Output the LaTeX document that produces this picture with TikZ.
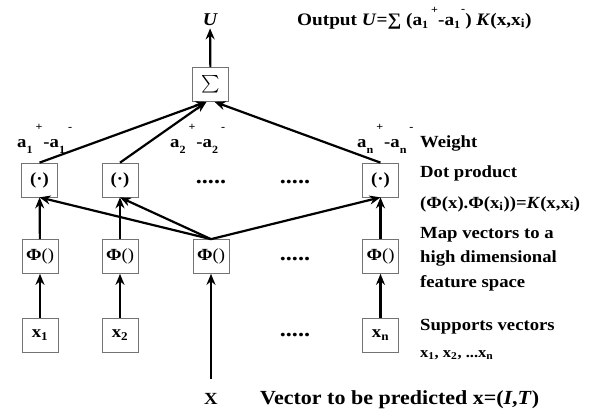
\documentclass[tikz,border=0pt]{standalone}
\usepackage{fontspec}
\setmainfont{Liberation Serif}[FakeStretch=1.1]
\usetikzlibrary{arrows.meta}
\newcommand{\wsup}[2]{\raisebox{#2}{\fontsize{11}{11}\selectfont #1}}
\newcommand{\wsub}[2]{\raisebox{#2}{\fontsize{11}{11}\selectfont #1}}
\newcommand{\wlab}[1]{a\wsub{#1}{-6pt}\hspace{3pt}\wsup{+}{17pt}\hspace{1pt}-a\wsub{#1}{-6pt}\hspace{3pt}\wsup{-}{17pt}}
\tikzset{
  unit/.style={draw=black!55, line width=0.7pt, minimum width=36pt, minimum height=34pt,
    inner sep=0pt, font=\fontsize{17}{17}\selectfont\bfseries},
  conn/.style={line width=2.2pt, -{Stealth[length=11pt,width=9pt]}},
  lab/.style={anchor=base west, inner sep=0pt, font=\fontsize{17}{20}\selectfont\bfseries},
  dotrow/.style={anchor=base, inner sep=0pt, font=\fontsize{22}{22}\selectfont\bfseries},
}
\begin{document}
\begin{tikzpicture}[x=1pt,y=-1pt]
\useasboundingbox (0,0) rectangle (595,413);
% output
\node[anchor=base, inner sep=0pt, font=\fontsize{18}{18}\selectfont\bfseries\itshape] (U) at (210,25) {U};
\node[anchor=base west, inner sep=0pt, font=\fontsize{17.5}{18}\selectfont\bfseries] (out) at (297,25)
  {Output \textit{U}=∑ (a\wsub{1}{-3pt}\hspace{3pt}\wsup{+}{12pt}-a\wsub{1}{-3pt}\hspace{1pt}\wsup{-}{13pt}) \textit{K}(x,x\textsubscript{i})};
\node[unit] (sum) at (210.5,84.5) {\scalebox{1.75}{$\sum$}};
% dot product row
\node[unit] (d1) at (39.5,180) {(·)};
\node[unit] (d2) at (120,180) {(·)};
\node[unit] (dn) at (380.5,180) {(·)};
\node[dotrow] (dr1) at (211,183) {.....};
\node[dotrow] (dr2) at (295,183) {.....};
% phi row
\node[unit] (p1) at (40,256.5) {Φ\textmd{()}};
\node[unit] (p2) at (120,256.5) {Φ\textmd{()}};
\node[unit] (p3) at (211,256.5) {Φ\textmd{()}};
\node[unit] (pn) at (380.5,256.5) {Φ\textmd{()}};
\node[dotrow] (dr3) at (295,260) {.....};
% support vectors row
\node[unit] (x1) at (40,335) {x\textsubscript{1}};
\node[unit] (x2) at (120,335) {x\textsubscript{2}};
\node[unit] (xn) at (380.5,335) {x\textsubscript{n}};
\node[dotrow] (dr4) at (295,336) {.....};
% input
\node[anchor=base, inner sep=0pt, font=\fontsize{17}{17}\selectfont\bfseries] (X) at (211,404) {X};
% weights
\node[lab] (w1) at (17,147) {\wlab{1}};
\node[lab] (w2) at (170,147) {\wlab{2}};
\node[lab] (wn) at (357,147) {\wlab{n}};
% right column labels
\node[lab] (lw) at (420,147) {Weight};
\node[lab] (ld) at (420,177) {Dot product};
\node[lab] (lk) at (420,208) {(Φ(x).Φ(x\textsubscript{i}))=\textit{K}(x,x\textsubscript{i})};
\node[lab] (lm1) at (420,238) {Map vectors to a};
\node[lab] (lm2) at (420,262.5) {high dimensional};
\node[lab] (lm3) at (420,287) {feature space};
\node[lab] (ls) at (420,330) {Supports vectors};
\node[lab, font=\fontsize{15}{15}\selectfont\bfseries] (lx) at (420,357) {x\textsubscript{1}, x\textsubscript{2}, ...x\textsubscript{n}};
\node[lab, font=\fontsize{20}{20}\selectfont\bfseries] (lv) at (260,404) {Vector to be predicted x=(\textit{I},\textit{T})};
% connectors
\draw[conn, shorten >=3pt] (sum) -- (U);
\draw[conn, shorten <=14pt] (X) -- (p3);
\draw[conn] (x1) -- (p1);
\draw[conn] (x2) -- (p2);
\draw[conn] (xn) -- (pn);
\draw[conn] (p1) -- (d1);
\draw[conn] (p2) -- (d2);
\draw[conn] (pn) -- (dn);
\draw[conn] (p3.north) -- (d1.south);
\draw[conn] (p3.north) -- (d2.south);
\draw[conn] (p3.north) -- (dn.south);
\draw[conn] (d1.north) -- ([xshift=-4pt]sum.south);
\draw[conn] (d2.north) -- ([xshift=-4pt]sum.south);
\draw[conn] (dn.north) -- ([xshift=4pt]sum.south);
\end{tikzpicture}
\end{document}
